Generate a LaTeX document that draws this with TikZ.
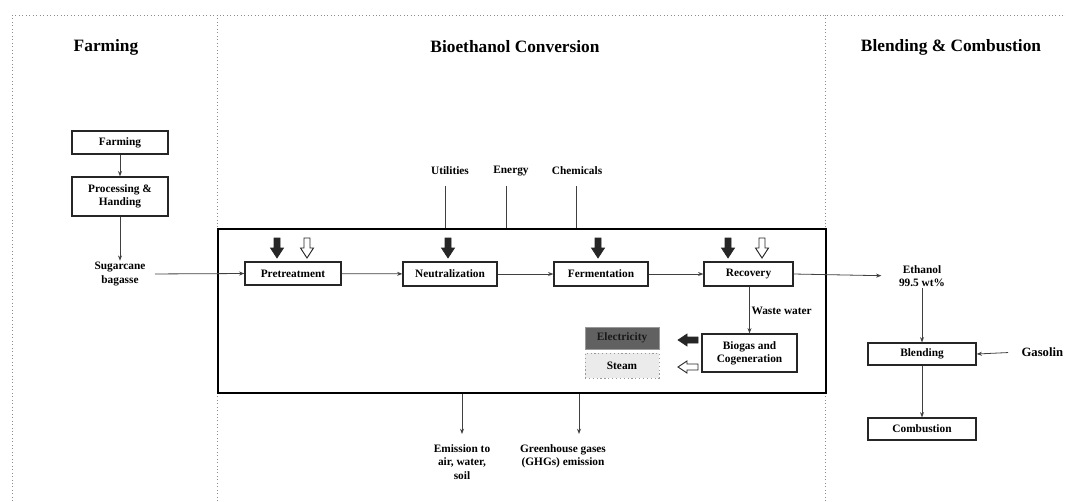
\documentclass[tikz,border=0pt]{standalone}
\usepackage{fontspec}
\setmainfont{Liberation Serif}
\usetikzlibrary{arrows.meta}
\tikzset{
  box/.style={draw=black!85, line width=0.9pt, fill=white, inner sep=1pt, align=center, font=\fontsize{8.5}{10}\selectfont\bfseries},
  lbl/.style={inner sep=1pt, align=center, font=\fontsize{8.5}{10}\selectfont\bfseries},
  ttl/.style={inner sep=1pt, font=\fontsize{13}{15}\selectfont\bfseries},
  conn/.style={draw=black!75, line width=0.6pt},
  arr/.style={conn, -{Stealth[length=4pt,width=3pt]}},
  divider/.style={draw=black!45, line width=0.6pt, dotted},
  darrow/.pic={\draw[pic actions] (-3,0) -- (3,0) -- (3,10) -- (6.5,10) -- (0,20) -- (-6.5,10) -- (-3,10) -- cycle;},
  larrow/.pic={\draw[pic actions] (0,0) -- (9,-6) -- (9,-3) -- (20,-3) -- (20,3) -- (9,3) -- (9,6) -- cycle;},
  solidblk/.style={fill=black!85, draw=black!85, line width=0.5pt},
  hollowblk/.style={fill=white, draw=black!85, line width=0.7pt}
}
\begin{document}
\begin{tikzpicture}[x=0.75pt,y=-0.75pt]
\useasboundingbox (0,0) rectangle (1066,501);
% frame and dividers
\coordinate (tl) at (12,15);
\coordinate (tr) at (1066,15);
\coordinate (bl) at (12,501);
\draw[divider] (tl) -- (tr);
\draw[divider] (tl) -- (bl);
% main box
\node[draw=black, line width=1.6pt, minimum width=608*0.75pt, minimum height=164*0.75pt, inner sep=0pt] (main) at (522,311) {};
\coordinate (d1t) at (217,15);
\coordinate (d1b) at (217,501);
\coordinate (d2t) at (825,15);
\coordinate (d2b) at (825,501);
\draw[divider] (d1t) -- (d1t |- main.north);
\draw[divider] (d1b) -- (d1b |- main.south);
\draw[divider] (d2t) -- (d2t |- main.north);
\draw[divider] (d2b) -- (d2b |- main.south);
% titles
\node[ttl] (t1) at (106,47) {Farming};
\node[ttl] (t2) at (515,47) {Bioethanol Conversion};
\node[ttl] (t3) at (951,47) {Blending \& Combustion};
% farming column
\node[box, minimum width=96*0.75pt, minimum height=23*0.75pt] (farm) at (120,142.5) {Farming};
\node[box, minimum width=96*0.75pt, minimum height=39*0.75pt] (proc) at (120,196.5) {Processing \&\\Handing};
\node[lbl] (sugar) at (120,274) {Sugarcane\\bagasse};
\draw[arr] (farm) -- (proc);
\draw[arr] (proc.south) -- (sugar.north);
% process boxes
\node[box, minimum width=96*0.75pt, minimum height=23*0.75pt] (pre) at (293,273.5) {Pretreatment};
\node[box, minimum width=94*0.75pt, minimum height=24*0.75pt] (neu) at (450,274) {Neutralization};
\node[box, minimum width=94*0.75pt, minimum height=24*0.75pt] (fer) at (601,274) {Fermentation};
\node[box, minimum width=89*0.75pt, minimum height=24*0.75pt] (rec) at (748.5,274) {Recovery};
\draw[arr, shorten <=6pt] (sugar.east) -- (pre.west);
\draw[arr] (pre) -- (neu);
\draw[arr] (neu) -- (fer);
\draw[arr] (fer) -- (rec);
% block arrows
\pic[solidblk] at (277,238) {darrow};
\pic[hollowblk] at (307,238) {darrow};
\pic[solidblk] at (448,238) {darrow};
\pic[solidblk] at (598,238) {darrow};
\pic[solidblk] at (728,238) {darrow};
\pic[hollowblk] at (762,238) {darrow};
% inputs
\node[lbl] (util) at (450,171) {Utilities};
\node[lbl] (energy) at (511,171) {Energy};
\node[lbl] (chem) at (577,171) {Chemicals};
\coordinate (u1) at (445,186);
\coordinate (u2) at (506,186);
\coordinate (u3) at (576,186);
\draw[conn] (u1) -- (u1 |- main.north);
\draw[conn] (u2) -- (u2 |- main.north);
\draw[conn] (u3) -- (u3 |- main.north);
% biogas
\node[box, minimum width=95*0.75pt, minimum height=38*0.75pt] (bio) at (749.5,353) {Biogas and\\Cogeneration};
\draw[arr] (rec.south -| bio.north) -- (bio.north);
\node[lbl, anchor=west] (waste) at (750,311) {Waste water};
\node[box, fill=black!62, draw=black!40, line width=0.4pt, minimum width=74*0.75pt, minimum height=22*0.75pt, text=black!90] (elec) at (622,338) {Electricity};
\node[box, fill=black!8, draw=black!40, dotted, line width=0.6pt, minimum width=74*0.75pt, minimum height=25*0.75pt] (steam) at (622,365.5) {Steam};
\pic[solidblk] at (678,340) {larrow};
\pic[hollowblk] at (678,367) {larrow};
% emissions
\node[lbl, anchor=north] (emis) at (462,443) {Emission to\\air, water,\\soil};
\node[lbl, anchor=north] (ghg) at (563,443) {Greenhouse gases\\(GHGs) emission};
\coordinate (e1) at (462,434);
\coordinate (e2) at (579,434);
\draw[arr] (e1 |- main.south) -- (e1);
\draw[arr] (e2 |- main.south) -- (e2);
% blending
\node[lbl] (eth) at (922,276) {Ethanol\\99.5 wt\%};
\draw[arr, shorten >=12pt] (rec.east) -- (eth.west);
\node[box, minimum width=108*0.75pt, minimum height=22*0.75pt] (blend) at (922,354) {Blending};
\node[box, minimum width=108*0.75pt, minimum height=22*0.75pt] (comb) at (922,429) {Combustion};
\node[lbl, anchor=west, font=\fontsize{9.5}{11}\selectfont\bfseries] (gas) at (1020,352) {Gasolin};
\draw[arr] (eth.south) -- (blend.north);
\draw[arr] (blend) -- (comb);
\draw[arr, shorten <=9pt] (gas.west) -- (blend.east);
\end{tikzpicture}
\end{document}
